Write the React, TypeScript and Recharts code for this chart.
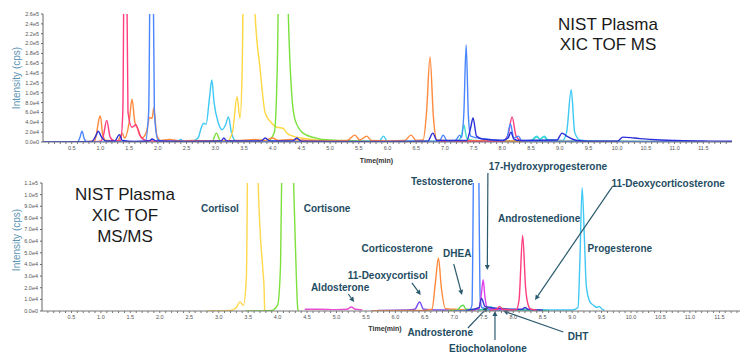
import React from 'react';
import { LineChart, Line, XAxis, YAxis, ReferenceLine, ReferenceDot } from 'recharts';

type Pt = [number, number]; // [time (min), intensity (cps)]

// ---- top panel: XIC TOF MS ----
const msPink: Pt[] = [[0.8, 0], [1.0, 1500], [1.05, 12000], [1.11, 44000], [1.17, 10000], [1.25, 2000], [1.35, 3000], [1.39, 60000], [1.43, 700000], [1.48, 60000], [1.55, 30000], [1.62, 35000], [1.68, 15000], [1.8, 3000], [2.0, 1500], [2.5, 1000], [3.0, 800], [4.0, 600], [5.0, 800], [6.0, 600], [7.0, 800], [7.3, 1500], [8.0, 1500], [8.1, 15000], [8.17, 51000], [8.24, 12000], [8.35, 1500], [9.0, 800], [10.0, 500], [11.5, 400]];
const msBlue: Pt[] = [[0, 0], [0.6, 0], [0.64, 8000], [0.68, 22000], [0.72, 6000], [0.78, 0], [1.2, 0], [1.78, 1000], [1.84, 60000], [1.89, 700000], [1.94, 60000], [2.0, 5000], [2.1, 1000], [3.0, 500], [6.0, 800], [6.9, 1500], [6.97, 14000], [7.04, 2000], [7.18, 3000], [7.26, 14000], [7.29, 9000], [7.33, 60000], [7.37, 197000], [7.41, 50000], [7.45, 12000], [7.7, 6000], [8.0, 3000], [8.08, 8000], [8.14, 37000], [8.2, 8000], [8.28, 12000], [8.34, 2000], [9.0, 1000], [11.5, 800]];
const msOrange: Pt[] = [[0.7, 0], [0.9, 2000], [0.95, 30000], [0.97, 44000], [1.0, 53000], [1.04, 15000], [1.1, 3000], [1.3, 2000], [1.38, 18000], [1.42, 8000], [1.5, 40000], [1.55, 87000], [1.6, 40000], [1.66, 25000], [1.72, 8000], [1.8, 20000], [1.86, 50000], [1.9, 48000], [1.93, 69000], [1.98, 15000], [2.05, 3000], [2.2, 5000], [2.4, 2000], [2.6, 3000], [3.0, 2500], [3.45, 3000], [3.7, 5000], [3.85, 3000], [4.0, 8000], [4.1, 3000], [4.3, 5000], [4.6, 3000], [5.0, 2000], [5.3, 3000], [5.43, 14000], [5.52, 4000], [5.64, 12000], [5.72, 3000], [6.0, 2000], [6.3, 3000], [6.41, 14000], [6.5, 3000], [6.62, 4000], [6.68, 60000], [6.74, 173000], [6.8, 50000], [6.86, 4000], [7.0, 3000], [8.0, 2000], [9.0, 1500], [10.0, 1000], [11.5, 800]];
const msYellow: Pt[] = [[2.6, 0], [3.2, 1000], [3.3, 20000], [3.38, 92000], [3.43, 48000], [3.47, 150000], [3.52, 600000], [3.6, 700000], [3.69, 270000], [3.78, 150000], [3.87, 59000], [3.97, 40000], [4.07, 30000], [4.18, 28000], [4.25, 18000], [4.35, 12000], [4.5, 8000], [4.75, 4000], [5.0, 2000], [5.5, 1000], [6.0, 500], [7.0, 300]];
const msGreen: Pt[] = [[2.7, 0], [2.95, 2000], [3.02, 18000], [3.09, 2000], [3.2, 500], [3.9, 1000], [4.03, 20000], [4.08, 150000], [4.14, 600000], [4.22, 600000], [4.27, 270000], [4.33, 100000], [4.39, 45000], [4.53, 18000], [4.75, 8000], [5.0, 4000], [5.5, 2000], [6.0, 1000], [7.3, 1000], [7.4, 3000], [8.0, 1000], [9.0, 800], [11.5, 500]];
const msCyan: Pt[] = [[2.2, 0], [2.35, 1000], [2.4, 5000], [2.45, 1000], [2.6, 2000], [2.7, 8000], [2.76, 30000], [2.8, 38000], [2.84, 36000], [2.9, 90000], [2.94, 126000], [2.98, 80000], [3.05, 40000], [3.12, 25000], [3.18, 35000], [3.23, 51000], [3.28, 20000], [3.35, 3000], [3.6, 1500], [5.85, 1000], [5.93, 12000], [6.0, 1000], [7.0, 1000], [8.0, 1000], [8.5, 3000], [8.6, 12000], [8.66, 6000], [8.73, 12000], [8.8, 4000], [9.05, 3000], [9.12, 20000], [9.2, 106000], [9.26, 20000], [9.35, 4000], [9.6, 1500], [11.5, 800]];
const msTeal: Pt[] = [[6.5, 0], [7.2, 1000], [7.28, 10000], [7.33, 35000], [7.38, 8000], [7.5, 3000], [8.0, 1500], [8.5, 2000], [8.6, 10000], [8.66, 5000], [8.72, 10000], [8.8, 3000], [9.2, 2000], [11.5, 500]];
const msNavy: Pt[] = [[0, 0], [0.85, 1000], [0.93, 15000], [0.96, 22000], [1.02, 10000], [1.1, 2000], [1.25, 2000], [1.33, 15000], [1.38, 3000], [1.6, 1000], [1.85, 2000], [1.9, 6000], [1.97, 2000], [2.5, 1000], [3.1, 2000], [3.15, 8000], [3.2, 2000], [3.8, 2000], [3.87, 8000], [3.95, 2000], [4.35, 2000], [4.42, 8000], [4.5, 1500], [5.0, 1000], [6.7, 1500], [6.79, 18000], [6.86, 3000], [7.38, 3000], [7.45, 30000], [7.49, 49000], [7.55, 12000], [7.65, 6000], [8.0, 3000], [8.1, 8000], [8.15, 20000], [8.2, 6000], [8.3, 3000], [8.95, 4000], [9.04, 18000], [9.12, 12000], [9.3, 3000], [9.5, 1500], [10.0, 1500], [10.1, 10000], [10.3, 8000], [10.6, 5000], [11.0, 3000], [11.5, 2000], [12.0, 1500]];

// ---- bottom panel: XIC TOF MS/MS ----
const cortisol: Pt[] = [[2.8, 0], [3.2, 500], [3.3, 3000], [3.36, 7700], [3.42, 5000], [3.47, 30000], [3.52, 300000], [3.62, 300000], [3.67, 110000], [3.75, 35000], [3.77, 20000], [3.78, 0]];
const cortisone: Pt[] = [[3.45, 0], [3.9, 500], [4.0, 5000], [4.05, 40000], [4.09, 200000], [4.18, 300000], [4.26, 130000], [4.3, 60000], [4.34, 3000], [4.35, 0]];
const aldosterone: Pt[] = [[4.46, 1500], [4.7, 1500], [5.0, 1200], [5.18, 1500], [5.25, 3500], [5.32, 1500], [5.44, 1000]];
const deoxycortisol: Pt[] = [[5.7, 500], [6.2, 800], [6.33, 1500], [6.41, 7700], [6.48, 1500], [6.7, 800], [7.0, 800], [7.3, 500]];
const corticosterone: Pt[] = [[5.6, 300], [6.5, 500], [6.62, 1500], [6.68, 25000], [6.73, 45500], [6.78, 20000], [6.85, 2000], [7.0, 1500], [7.3, 500]];
const dhea: Pt[] = [[6.9, 300], [7.05, 800], [7.11, 4000], [7.15, 5000], [7.2, 1500], [7.4, 1200], [7.7, 1500], [8.0, 800], [8.4, 500]];
const testosterone: Pt[] = [[7.0, 300], [7.25, 500], [7.3, 5000], [7.33, 150000], [7.37, 300000], [7.41, 150000], [7.44, 10000], [7.47, 3000], [7.6, 1500], [7.8, 800]];
const hydroxyprogesterone: Pt[] = [[7.3, 500], [7.42, 2000], [7.46, 15000], [7.49, 27000], [7.52, 12000], [7.56, 3000], [7.7, 1500], [8.0, 800]];
const androgensTeal: Pt[] = [[7.4, 500], [7.55, 2500], [7.62, 3500], [7.7, 2000], [7.8, 2500], [7.9, 1500], [8.2, 800], [8.6, 500]];
const deoxycorticosterone: Pt[] = [[7.2, 500], [7.42, 3000], [7.46, 11000], [7.52, 4000], [7.6, 3000], [7.8, 2000], [8.0, 1500], [8.15, 1500], [8.2, 3000], [8.25, 1500], [8.5, 800]];
const androstenedione: Pt[] = [[7.6, 500], [7.72, 1500], [7.77, 4000], [7.82, 1500], [8.05, 1000], [8.1, 10000], [8.16, 65000], [8.21, 20000], [8.25, 6000], [8.3, 1500], [8.4, 800]];
const progesterone: Pt[] = [[7.5, 800], [8.0, 1000], [9.0, 800], [9.1, 3000], [9.13, 40000], [9.17, 106000], [9.21, 60000], [9.24, 22000], [9.3, 8000], [9.36, 5000], [9.42, 3000], [9.46, 4000], [9.5, 2000], [9.55, 500]];

const timeLabels = [0.5, 1.0, 1.5, 2.0, 2.5, 3.0, 3.5, 4.0, 4.5, 5.0, 5.5, 6.0, 6.5, 7.0, 7.5, 8.0, 8.5, 9.0, 9.5, 10.0, 10.5, 11.0, 11.5];
const msTicks = [0, 20000, 40000, 60000, 80000, 100000, 120000, 140000, 160000, 180000, 200000, 220000, 240000, 260000];
const msmsTicks = [0, 10000, 20000, 30000, 40000, 50000, 60000, 70000, 80000, 90000, 100000, 110000];

// compound labels and arrows, anchored in (time, intensity)
const notes = [
  { text: 'Cortisol', t: 3.02, v: 88500 },
  { text: 'Cortisone', t: 4.84, v: 87700 },
  { text: 'Testosterone', t: 6.79, v: 110900 },
  { text: '17-Hydroxyprogesterone', t: 8.59, v: 123800 },
  { text: '11-Deoxycorticosterone', t: 10.63, v: 110000 },
  { text: 'Androstenedione', t: 8.44, v: 79100 },
  { text: 'Progesterone', t: 9.81, v: 54100 },
  { text: 'Corticosterone', t: 6.03, v: 54100 },
  { text: 'DHEA', t: 7.05, v: 49000 },
  { text: '11-Deoxycortisol', t: 5.87, v: 30100 },
  { text: 'Aldosterone', t: 5.06, v: 20600 },
  { text: 'Androsterone', t: 6.76, v: -18900 },
  { text: 'Etiocholanolone', t: 7.57, v: -31800 },
  { text: 'DHT', t: 9.1, v: -22300 },
];
const arrows: [Pt, Pt][] = [
  [[5.2, 14600], [5.3, 7700]],
  [[6.28, 24100], [6.43, 13800]],
  [[6.99, 40400], [7.13, 13800]],
  [[7.57, 118600], [7.56, 35200]],
  [[7.23, -14600], [7.57, 3400]],
  [[7.69, -24900], [7.69, 0]],
  [[8.85, -18000], [7.83, 0]],
  [[9.68, 106600], [8.37, 9500]],
];

const msTraces = [
  { pts: msCyan, color: '#3ec8f5' },
  { pts: msTeal, color: '#3fe0c8' },
  { pts: msYellow, color: '#ffd740' },
  { pts: msGreen, color: '#7ae03c' },
  { pts: msOrange, color: '#ff8a3d' },
  { pts: msPink, color: '#ff3d7f' },
  { pts: msBlue, color: '#4a86ff' },
  { pts: msNavy, color: '#2a2fd8' },
];
const msmsTraces = [
  { pts: cortisol, color: '#ffd84d' },
  { pts: cortisone, color: '#7de03c' },
  { pts: aldosterone, color: '#e84fd0' },
  { pts: deoxycortisol, color: '#7a4df0' },
  { pts: corticosterone, color: '#ff8a3d' },
  { pts: dhea, color: '#5fd94a' },
  { pts: progesterone, color: '#40c8f5' },
  { pts: androgensTeal, color: '#2fd0b0' },
  { pts: testosterone, color: '#4a86ff' },
  { pts: hydroxyprogesterone, color: '#e040e8' },
  { pts: deoxycorticosterone, color: '#3a3ad0' },
  { pts: androstenedione, color: '#ff3d7f' },
];

// small tick marks every 0.1 min, labelled only at the half minutes
const minorTicks = Array.from({ length: 119 }, (_, i) => (i + 1) / 10);
const rows = (pts: Pt[]) => pts.map(([t, v]) => ({ t, v }));
const sci = (v: number) => {
  if (v === 0) return '0.0e0';
  const e = Math.floor(Math.log10(v) + 1e-9);
  return (v / Math.pow(10, e)).toFixed(1) + 'e' + e;
};
const fmtTime = (v: number) => (timeLabels.some((l) => Math.abs(l - v) < 1e-6) ? v.toFixed(1) : '');

const YTitle = (props: any) => {
  const { viewBox, shift = 0 } = props;
  const x = viewBox.x + 16;
  const y = viewBox.y + viewBox.height / 2 + shift;
  return (
    <text x={x} y={y} transform={`rotate(-90 ${x} ${y})`} textAnchor="middle" dominantBaseline="central" fontSize={10} fill="#5a93b3">
      Intensity (cps)
    </text>
  );
};

const Arrow = (p: any) => {
  const { x1, y1, x2, y2 } = p;
  const a = Math.atan2(y2 - y1, x2 - x1);
  const L = 5, W = 2.5;
  const bx = x2 - L * Math.cos(a), by = y2 - L * Math.sin(a);
  const pts = `${x2},${y2} ${bx + W * Math.sin(a)},${by - W * Math.cos(a)} ${bx - W * Math.sin(a)},${by + W * Math.cos(a)}`;
  return (
    <g>
      <line x1={x1} y1={y1} x2={bx} y2={by} stroke="#2b5a6e" strokeWidth={1.2} />
      <polygon points={pts} fill="#2b5a6e" />
    </g>
  );
};

const tickStyle = { fontSize: 5.5, fill: '#555' };
const timeTitle = (dx: number) => ({ value: 'Time(min)', position: 'insideBottom' as const, offset: 2, dx, fontSize: 7, fontWeight: 700, fill: '#333' });

export default function App() {
  return (
    <div style={{ position: 'absolute', left: 0, top: 0, width: 750, height: 361, background: '#fff', fontFamily: '"Liberation Sans", Arial, sans-serif' }}>
      <div style={{ position: 'absolute', left: 0, top: 0 }}>
        <LineChart width={750} height={165} margin={{ top: 14, right: 18, bottom: 0, left: 0 }}>
          <XAxis type="number" dataKey="t" domain={[0, 12]} allowDataOverflow ticks={minorTicks} interval={0} tickFormatter={fmtTime}
            tick={tickStyle} tickSize={2} stroke="#777" height={23} label={timeTitle(-11)} />
          <YAxis type="number" domain={[0, 260000]} allowDataOverflow ticks={msTicks} interval={0} tickFormatter={sci}
            tick={tickStyle} tickSize={2} stroke="#666" width={43} label={<YTitle />} />
          {msTraces.map((tr, i) => (
            <Line key={i} data={rows(tr.pts)} dataKey="v" type="monotone" stroke={tr.color} strokeWidth={1.4} dot={false} isAnimationActive={false} />
          ))}
        </LineChart>
      </div>
      <div style={{ position: 'absolute', left: 538, top: 15, width: 140, textAlign: 'center', fontSize: 17, lineHeight: '20px', color: '#1a1a1a' }}>
        NIST Plasma<br />XIC TOF MS
      </div>
      <div style={{ position: 'absolute', left: 0, top: 150 }}>
        <LineChart width={750} height={211} margin={{ top: 33, right: 10, bottom: 28, left: 0 }}>
          <XAxis type="number" dataKey="t" domain={[0, 11.85]} allowDataOverflow ticks={minorTicks.filter((t) => t <= 11.8)} interval={0} tickFormatter={fmtTime}
            tick={tickStyle} tickSize={2} stroke="#777" height={22} label={timeTitle(-6)} />
          <YAxis type="number" domain={[0, 110000]} allowDataOverflow ticks={msmsTicks} interval={0} tickFormatter={sci}
            tick={tickStyle} tickSize={2} stroke="#666" width={42} label={<YTitle shift={-7} />} />
          {msmsTraces.map((tr, i) => (
            <Line key={i} data={rows(tr.pts)} dataKey="v" type="monotone" stroke={tr.color} strokeWidth={1.4} dot={false} isAnimationActive={false} />
          ))}
          {arrows.map(([a, b], i) => (
            <ReferenceLine key={'a' + i} segment={[{ x: a[0], y: a[1] }, { x: b[0], y: b[1] }]} ifOverflow="visible" shape={Arrow} />
          ))}
          {notes.map((n) => (
            <ReferenceDot key={n.text} x={n.t} y={n.v} r={0} ifOverflow="visible"
              shape={(p: any) => (
                <text x={p.cx} y={p.cy} textAnchor="middle" dominantBaseline="central" fontSize={10} fontWeight={700} fill="#1f4d63">{n.text}</text>
              )} />
          ))}
        </LineChart>
      </div>
      <div style={{ position: 'absolute', left: 55, top: 184, width: 140, textAlign: 'center', fontSize: 17, lineHeight: '21px', color: '#1a1a1a' }}>
        NIST Plasma<br />XIC TOF<br />MS/MS
      </div>
    </div>
  );
}
